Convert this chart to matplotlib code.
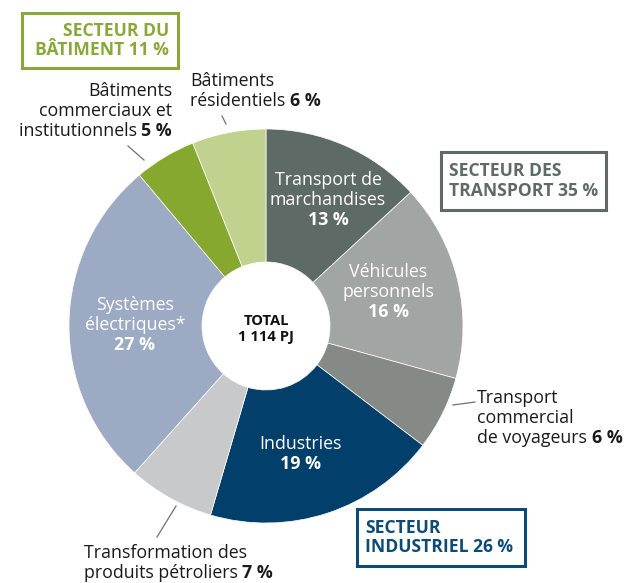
import matplotlib
matplotlib.use("Agg")
import matplotlib.pyplot as plt
from matplotlib.patches import Rectangle

plt.rcParams['font.family'] = ['Open Sans', 'DejaVu Sans']

# Energy use by sub-sector (share of total, %)
labels = ["Transport de marchandises", "Véhicules personnels",
          "Transport commercial de voyageurs", "Industries",
          "Transformation des produits pétroliers", "Systèmes électriques*",
          "Bâtiments commerciaux et institutionnels", "Bâtiments résidentiels"]
values = [13, 16, 6, 19, 7, 27, 5, 6]
colors = ["#5e6a66", "#a1a5a3", "#868a87", "#023f6b",
          "#c8c9cb", "#9caac3", "#87a82f", "#c1d18e"]

sectors = ["SECTEUR DU\nBÂTIMENT 11 %", "SECTEUR DES\nTRANSPORT 35 %",
           "SECTEUR\nINDUSTRIEL 26 %"]
total_label = "TOTAL\n1 114 PJ"

W, H = 624, 583
fig = plt.figure(figsize=(W / 100, H / 100), dpi=100)
ax = fig.add_axes([0, 0, 1, 1])
ax.set_xlim(0, W)
ax.set_ylim(0, H)
ax.set_aspect('equal')
ax.axis('off')


def Y(py):
    return H - py


cx, cy, R, r_in = 266, Y(326), 197, 64
ax.pie(values, colors=colors, startangle=90, counterclock=False,
       center=(cx, cy), radius=R, frame=True,
       wedgeprops=dict(width=R - r_in, edgecolor='white', linewidth=0.5))
ax.set_xlim(0, W)
ax.set_ylim(0, H)
ax.axis('off')

FS = 12.8


def mixed_line(x, y, regular, bold, ha='left', color='#1a1a1a', size=FS):
    """One line of text whose trailing part is bold."""
    if ha == 'left':
        t = ax.text(x, y, regular, ha='left', va='baseline', fontsize=size, color=color)
        ax.annotate(bold, xy=(1, 0), xycoords=t, ha='left', va='bottom',
                    fontsize=size, color=color, fontweight='bold')
    else:
        t = ax.text(x, y, bold, ha='right', va='baseline', fontsize=size,
                    color=color, fontweight='bold')
        ax.annotate(regular, xy=(0, 0), xycoords=t, ha='right', va='bottom',
                    fontsize=size, color=color)


def lines_above(x, y, lines, ha, step=20, color='#1a1a1a', size=FS):
    for i, s in enumerate(reversed(lines)):
        ax.text(x, y + step * (i + 1), s, ha=ha, va='baseline', fontsize=size, color=color)


def leader(p0, p1):
    ax.plot([p0[0], p1[0]], [Y(p0[1]), Y(p1[1])], color='#6f6f6f', lw=0.9)


# Outside labels
lines_above(172, Y(136), ["Bâtiments", "commerciaux et"], 'right')
mixed_line(172, Y(136), "institutionnels ", "5 %", ha='right')
leader((128, 146), (144, 160))

lines_above(190, Y(106), ["Bâtiments"], 'left')
mixed_line(190, Y(106), "résidentiels ", "6 %")
leader((222, 116), (226, 124))

lines_above(477, Y(443), ["Transport", "commercial"], 'left')
mixed_line(477, Y(443), "de voyageurs ", "6 %")
leader((453, 405), (475, 402))

lines_above(84, Y(578), ["Transformation des"], 'left')
mixed_line(84, Y(578), "produits pétroliers ", "7 %")
leader((176, 506), (157, 537))

# Labels inside the ring
inside = [
    (328, 200, "Transport de\nmarchandises", "13 %"),
    (388, 292, "Véhicules\npersonnels", "16 %"),
    (300, 454, "Industries", "19 %"),
    (135, 325, "Systèmes\nélectriques*", "27 %"),
]
for x, y, name, pct in inside:
    n = name.count("\n") + 1
    top = y - 10 * n
    for i, s in enumerate(name.split("\n")):
        ax.text(x, Y(top + 20 * i), s, ha='center', va='center', fontsize=FS, color='white')
    ax.text(x, Y(top + 20 * n), pct, ha='center', va='center', fontsize=FS,
            color='white', fontweight='bold')

ax.text(cx, Y(329), total_label, ha='center', va='center', fontsize=10.6,
        fontweight='bold', color='#111111', linespacing=1.2)

# Sector boxes
boxes = [
    ((22, 13, 178, 68), "#8aa83a", 'right', sectors[0]),
    ((441, 152, 606, 210), "#5e6a66", 'left', sectors[1]),
    ((357, 509, 525, 566), "#0d4a76", 'left', sectors[2]),
]
for (x0, y0, x1, y1), col, ha, txt in boxes:
    ax.add_patch(Rectangle((x0, Y(y1)), x1 - x0, y1 - y0, fill=False,
                           edgecolor=col, lw=2.2))
    tx = x1 - 9 if ha == 'right' else x0 + 8
    ax.text(tx, Y((y0 + y1) / 2), txt, ha=ha, va='center', fontsize=12.6,
            fontweight='bold', color=col, linespacing=1.1)

fig.savefig("out.png", dpi=100)
